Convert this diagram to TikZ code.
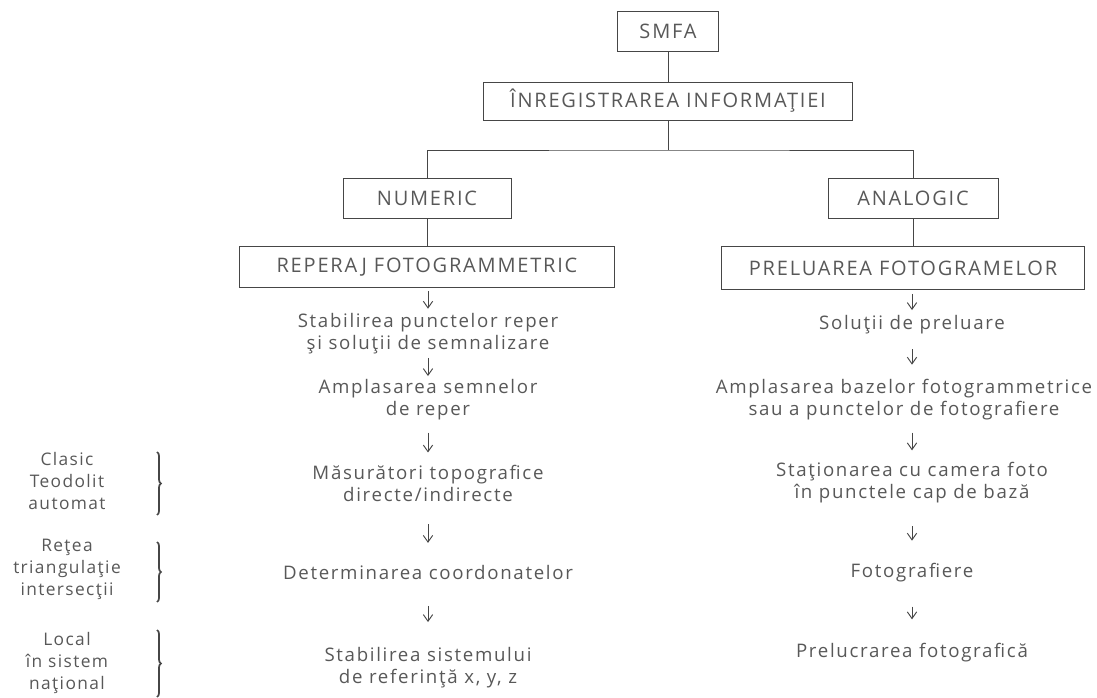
\documentclass[tikz,border=0pt]{standalone}
\usepackage{fontspec}
\setmainfont{Open Sans}
\usetikzlibrary{arrows.meta,decorations.pathreplacing}

\definecolor{cerneala}{RGB}{88,88,88}
\definecolor{linie}{RGB}{70,70,70}

\begin{document}
\begin{tikzpicture}[x=0.75pt,y=0.75pt,yscale=-1,xscale=1,
  casuta/.style={draw=linie, line width=0.7pt, text=cerneala, font=\fontsize{15}{17}\selectfont\addfontfeatures{LetterSpace=9}, inner sep=0pt, minimum height=30pt},
  pas/.style={text=cerneala, align=center, font=\fontsize{14}{16.5}\selectfont\addfontfeatures{LetterSpace=9}, inner sep=1pt},
  eticheta/.style={text=cerneala, align=center, font=\fontsize{13}{16.5}\selectfont\addfontfeatures{LetterSpace=8}, inner sep=0pt},
  legatura/.style={draw=linie, line width=0.7pt},
  sageata/.style={draw=linie, line width=0.7pt, -{Straight Barb[length=5pt,width=7pt]}, shorten <=#1, shorten >=#1},
  acolada/.style={draw=linie, line width=1.3pt, decorate, decoration={brace,amplitude=3pt}}]
\useasboundingbox (0,0) rectangle (1097,698);

% Boxes
\node[casuta, minimum width=76pt] (smfa) at (668,31) {SMFA};
\node[casuta, minimum width=277pt, minimum height=28.5pt] (inreg) at (668,101) {ÎNREGISTRAREA INFORMAŢIEI};
\node[casuta, minimum width=126pt] (numeric) at (427,198) {NUMERIC};
\node[casuta, minimum width=127.5pt] (analogic) at (913,198) {ANALOGIC};
\node[casuta, minimum width=281pt, minimum height=31pt] (reperaj) at (427,267) {REPERAJ FOTOGRAMMETRIC};
\node[casuta, minimum width=272pt, minimum height=32pt] (preluarea) at (903,268) {PRELUAREA FOTOGRAMELOR};

% Tree lines
\coordinate (ramura) at (668,150);
\draw[legatura] (smfa) -- (inreg);
\draw[legatura] (inreg) -- (ramura);
\draw[legatura] (numeric.north) |- (ramura) -| (analogic.north);
\draw[legatura] (numeric) -- (reperaj);
\draw[legatura] (analogic) -- (analogic |- preluarea.north);

% Left column
\node[pas] (stab1) at (428,334) {Stabilirea punctelor reper\\şi soluţii de semnalizare};
\node[pas] (ampl1) at (428,400) {Amplasarea semnelor\\de reper};
\node[pas] (masur) at (428,483) {Măsurători topografice\\directe/indirecte};
\node[pas] (determ) at (428,573) {Determinarea coordonatelor};
\node[pas] (sistem) at (428,668) {Stabilirea sistemului\\de referinţă x, y, z};

% Right column
\node[pas] (solutii) at (912,325) {Soluţii de preluare};
\node[pas] (ampl2) at (904,400) {Amplasarea bazelor fotogrammetrice\\sau a punctelor de fotografiere};
\node[pas] (station) at (912,483) {Staţionarea cu camera foto\\în punctele cap de bază};
\node[pas] (foto) at (912,573) {Fotografiere};
\node[pas] (prelucr) at (912,653) {Prelucrarea fotografică};

% Arrows
\draw[sageata=2.5pt] (reperaj.south -| stab1) -- (stab1);
\draw[sageata=1.5pt] (stab1) -- (ampl1);
\draw[sageata=8pt] (ampl1) -- (masur);
\draw[sageata=16pt] (masur) -- (determ);
\draw[sageata=18pt] (determ) -- (sistem);
\draw[sageata=3pt] (preluarea.south -| solutii) -- (solutii);
\draw[sageata=10pt] (solutii) -- (solutii |- ampl2.north);
\draw[sageata=8pt] (station |- ampl2.south) -- (station);
\draw[sageata=16pt] (station) -- (foto);
\draw[sageata=17pt] (foto) -- (prelucr);

% Side notes
\node[eticheta] (clasic) at (67,481) {Clasic\\Teodolit\\automat};
\node[eticheta] (retea) at (67,569) {Reţea\\triangulaţie\\intersecţii};
\node[eticheta] (local) at (67,663) {Local\\în sistem\\naţional};
\draw[acolada] (157,452) -- (157,515);
\draw[acolada] (157,542) -- (157,602);
\draw[acolada] (157,630) -- (157,697);

\end{tikzpicture}
\end{document}
